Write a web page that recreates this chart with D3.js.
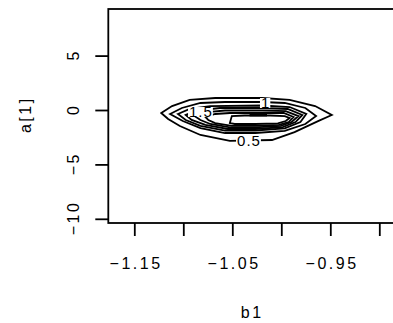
<!DOCTYPE html>
<html><head><meta charset="utf-8">
<script src="https://cdn.jsdelivr.net/npm/d3@7"></script>
<style>body{margin:0;background:#fff}svg{display:block}text{font-family:"Liberation Sans",Arial,sans-serif}</style>
</head><body><svg id="c" width="393" height="323"></svg>
<script>
const xTicks = [-1.15, -1.10, -1.05, -1.00, -0.95, -0.90];
const xTickLabels = ["\u22121.15", "", "\u22121.05", "", "\u22120.95", ""];
const yTicks = [5, 0, -5, -10];
const yTickLabels = ["5", "0", "\u22125", "\u221210"];
const levels = [0.5, 1, 1.5, 2, 2.5, 3, 3.5, 4];
// contour paths in data units [b1, a[1]]
const c05 = [[-1.123,-0.23],[-1.112,0.41],[-1.094,0.97],[-1.068,1.15],[-1.020,1.15],[-0.992,0.97],[-0.966,0.41],[-0.949,-0.41],[-0.963,-0.97],[-0.987,-1.98],[-1.010,-2.71],[-1.053,-2.80],[-1.083,-2.25],[-1.104,-1.42],[-1.116,-0.78]];
const c10 = [[-1.114,-0.32],[-1.102,0.23],[-1.083,0.69],[-1.058,0.78],[-1.020,0.78],[-0.997,0.69],[-0.976,0.23],[-0.965,-0.51],[-0.976,-1.24],[-0.997,-1.88],[-1.027,-2.07],[-1.058,-2.07],[-1.083,-1.61],[-1.101,-0.97]];
const c15 = [[-1.106,-0.32],[-1.094,0.14],[-1.073,0.41],[-1.020,0.46],[-0.992,0.32],[-0.975,-0.32],[-0.981,-1.06],[-0.997,-1.65],[-1.027,-1.84],[-1.058,-1.84],[-1.083,-1.42],[-1.098,-0.87]];
const c20 = [[-1.098,-0.41],[-1.086,0.00],[-1.063,0.23],[-1.020,0.23],[-0.994,0.14],[-0.979,-0.41],[-0.986,-1.06],[-0.999,-1.52],[-1.027,-1.70],[-1.055,-1.70],[-1.078,-1.33],[-1.092,-0.87]];
const c25 = [[-1.089,-0.51],[-1.076,-0.14],[-1.058,0.00],[-1.020,0.00],[-0.996,-0.05],[-0.983,-0.51],[-0.990,-1.06],[-1.001,-1.42],[-1.027,-1.56],[-1.053,-1.56],[-1.073,-1.24],[-1.083,-0.87]];
const c30 = [[-1.078,-0.60],[-1.068,-0.32],[-1.053,-0.23],[-1.020,-0.23],[-0.998,-0.23],[-0.988,-0.60],[-0.993,-1.06],[-1.003,-1.33],[-1.027,-1.42],[-1.051,-1.42],[-1.068,-1.15],[-1.075,-0.87]];
const c35 = [[-1.053,-1.15],[-1.051,-0.51],[-1.038,-0.46],[-1.012,-0.46],[-0.997,-0.51],[-0.992,-0.69],[-0.996,-0.97],[-1.004,-1.19],[-1.027,-1.24],[-1.048,-1.24]];
const c40 = [[-1.032,-0.32],[-1.016,-0.32],[-1.016,-0.46],[-1.032,-0.46]];
const contourPaths = [c05, c10, c15, c20, c25, c30, c35, c40];
const labelLevels = ["0.5", "1", "1.5"];
const labelAt = [[-1.034,-2.80], [-1.017,0.69], [-1.083,-0.14]];

const svg = d3.select("#c");
const L = 108.3, R = 395, T = 9, B = 223;
const x = d3.scaleLinear().domain([-1.15, -0.95]).range([134.8, 330.8]);
const y = d3.scaleLinear().domain([0, -10]).range([110.5, 219.3]);
const FS = 16, LS = 2.5;

const line = d3.line().x(d => x(d[0])).y(d => y(d[1])).curve(d3.curveLinearClosed);
const g = svg.append("g");
g.selectAll("path.ct").data(contourPaths).join("path")
  .attr("class","ct").attr("d", line)
  .attr("fill","none").attr("stroke","#000").attr("stroke-width",1.8).attr("stroke-linejoin","miter");

// contour labels
labelLevels.forEach((t,i) => {
  const px = x(labelAt[i][0]), py = y(labelAt[i][1]);
  const tx = g.append("text").attr("x",px+0.5).attr("y",py+5.3).attr("text-anchor","middle")
    .attr("font-size",15).attr("letter-spacing",1).text(t);
  const bb = tx.node().getBBox();
  g.insert("rect","text").attr("x",bb.x-1).attr("y",py-5).attr("width",bb.width+1).attr("height",10).attr("fill","#fff");
});

// box (left, top, bottom visible)
svg.append("rect").attr("x",L).attr("y",T).attr("width",R-L).attr("height",B-T)
  .attr("fill","none").attr("stroke","#000").attr("stroke-width",1.8);

// x axis
const xa = svg.append("g");
xa.selectAll("line").data(xTicks).join("line")
  .attr("x1",d=>x(d)).attr("x2",d=>x(d)).attr("y1",B).attr("y2",B+13)
  .attr("stroke","#000").attr("stroke-width",1.8);
xa.selectAll("text").data(xTicks).join("text")
  .attr("x",d=>x(d)+LS/2).attr("y",269).attr("text-anchor","middle").attr("font-size",FS)
  .attr("letter-spacing",LS)
  .text((d,i)=>xTickLabels[i]);
svg.append("text").attr("x",251+LS/2).attr("y",318).attr("text-anchor","middle").attr("font-size",FS)
  .attr("letter-spacing",LS).text("b1");

// y axis
const ya = svg.append("g");
ya.selectAll("line").data(yTicks).join("line")
  .attr("x1",L-13).attr("x2",L).attr("y1",d=>y(d)).attr("y2",d=>y(d))
  .attr("stroke","#000").attr("stroke-width",1.8);
ya.selectAll("text").data(yTicks).join("text")
  .attr("transform",d=>`translate(79,${y(d)-LS/2}) rotate(-90)`)
  .attr("text-anchor","middle").attr("font-size",FS).attr("letter-spacing",LS)
  .text((d,i)=>yTickLabels[i]);
svg.append("text").attr("transform",`translate(31,${(T+B)/2 - LS/2}) rotate(-90)`)
  .attr("text-anchor","middle").attr("font-size",FS).attr("letter-spacing",LS).text("a[1]");
</script></body></html>
